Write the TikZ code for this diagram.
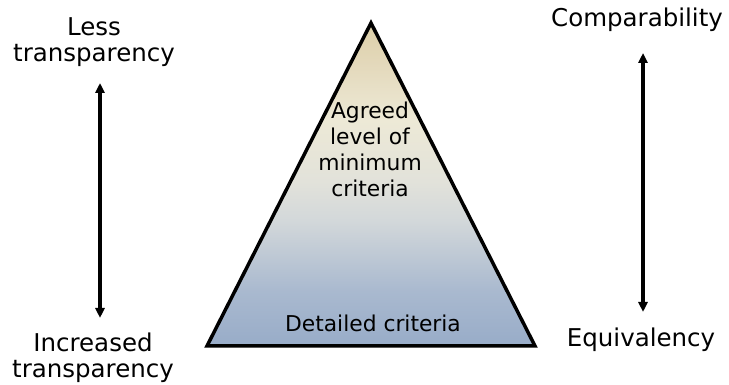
\documentclass[tikz,border=0pt]{standalone}
\usepackage{fontspec}
\setmainfont{DejaVu Sans}
\usetikzlibrary{arrows.meta}
\definecolor{pA}{RGB}{152,172,200}
\definecolor{pB}{RGB}{169,185,207}
\definecolor{pC}{RGB}{211,216,218}
\definecolor{pD}{RGB}{226,226,218}
\definecolor{pE}{RGB}{237,233,214}
\definecolor{pF}{RGB}{227,216,186}
\definecolor{pG}{RGB}{220,207,168}
\pgfdeclareverticalshading{pyrshade}{100bp}{%
  color(0bp)=(pA);
  color(25bp)=(pA);
  color(33.5bp)=(pB);
  color(44.5bp)=(pC);
  color(50.5bp)=(pD);
  color(60bp)=(pE);
  color(69bp)=(pF);
  color(75bp)=(pG);
  color(100bp)=(pG)}
\tikzset{
  side/.style={align=center, font=\fontsize{24.5}{26}\selectfont, inner sep=0pt},
  inner/.style={align=center, font=\fontsize{21.8}{26}\selectfont, inner sep=0pt},
  dblarrow/.style={line width=3.5pt, {Triangle[length=10pt,width=9pt]}-{Triangle[length=10pt,width=9pt]}},
  pyr/.style={line width=3.5pt, line join=miter}
}
\begin{document}
\begin{tikzpicture}[x=1pt,y=1pt]
\useasboundingbox (0,0) rectangle (729,385);
% pyramid
\coordinate (apex) at (371,362);
\coordinate (bl) at (207,39);
\coordinate (br) at (535,39);
\shade[shading=pyrshade] (apex) -- (bl) -- (br) -- cycle;
\draw[pyr] (apex) -- (bl) -- (br) -- cycle;
\node[inner] (agreed) at (370,236) {Agreed\\level of\\minimum\\criteria};
\node[inner] (detailed) at (373,62) {Detailed criteria};
% left side
\node[side] (less) at (94,343) {Less\\transparency};
\node[side] (incr) at (93,27) {Increased\\transparency};
\coordinate (la) at (100,302);
\coordinate (lb) at (100,67);
\draw[dblarrow] (la) -- (lb);
% right side
\node[side] (comp) at (637,365) {Comparability};
\node[side] (equiv) at (641,45) {Equivalency};
\coordinate (ra) at (643,332);
\coordinate (rb) at (643,73);
\draw[dblarrow] (ra) -- (rb);
\end{tikzpicture}
\end{document}
